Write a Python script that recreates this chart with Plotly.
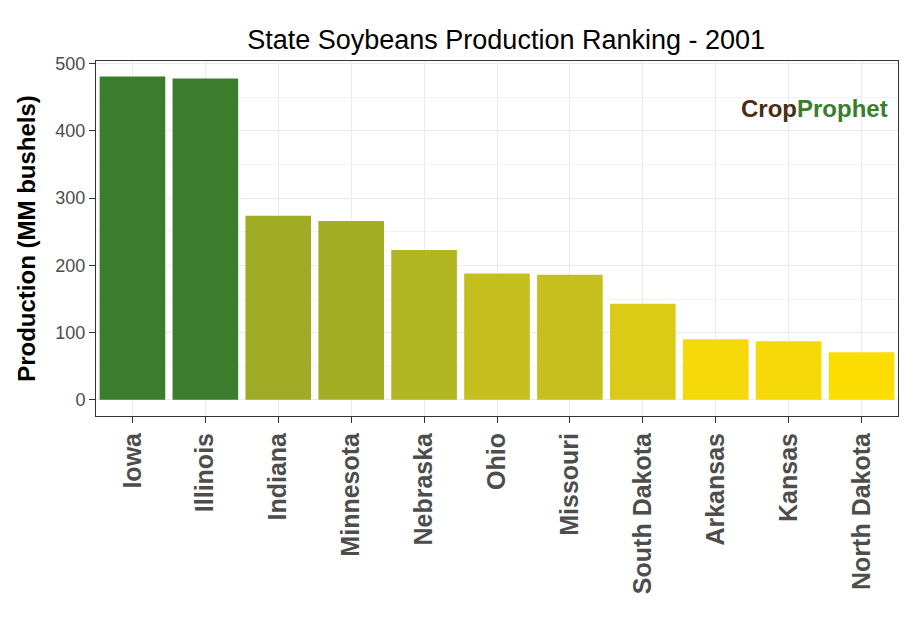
import plotly.graph_objects as go

states = ["Iowa","Illinois","Indiana","Minnesota","Nebraska","Ohio","Missouri","South Dakota","Arkansas","Kansas","North Dakota"]
production = [481, 478, 274, 266, 223, 188, 186, 143, 90, 87, 71]
colors = ["#3a7d2c","#3a7d2c","#a0ab25","#a4ae25","#b2b522","#c4bf1e","#c5c01e","#dccb16","#f5d90a","#f6d909","#fcdd00"]

fig = go.Figure(go.Bar(x=states, y=production, marker_color=colors, width=0.9, marker_line_width=0))
fig.update_layout(
    width=914, height=640, plot_bgcolor="white", paper_bgcolor="white",
    margin=dict(l=88, r=24, t=53, b=232, autoexpand=False),
    font=dict(family="Liberation Sans, Arial", color="#4d4d4d"),
    title=dict(text="State Soybeans Production Ranking - 2001", x=0.545, xanchor="center", y=0.965,
               font=dict(size=27, color="black")),
    showlegend=False,
    annotations=[dict(text="<b><span style='color:#4a2e12'>Crop</span><span style='color:#3a7d2c'>Prophet</span></b>",
                      xref="paper", yref="paper", x=0.99, y=0.91, xanchor="right", showarrow=False,
                      font=dict(size=24, family="Liberation Sans, Arial"))],
)
fig.update_xaxes(tickangle=-90, tickfont=dict(size=25, color="#4d4d4d"), automargin=False,
                 showline=True, linecolor="#333", mirror=True, showgrid=True, gridcolor="#ebebeb",
                 ticks="outside", ticklen=6, tickcolor="#333", tickprefix="<b>", ticksuffix="</b>")
fig.update_yaxes(range=[-24, 504], tickvals=[0,100,200,300,400,500], tickfont=dict(size=18), automargin=False,
                 title=dict(text="<b>Production (MM bushels)</b>", font=dict(size=24, color="black"), standoff=12),
                 showline=True, linecolor="#333", mirror=True, gridcolor="#ebebeb", zeroline=False,
                 ticks="outside", ticklen=6, tickcolor="#333",
                 minor=dict(tickvals=[50,150,250,350,450], showgrid=True, gridcolor="#f3f3f3"))
fig.write_html("out.html")
